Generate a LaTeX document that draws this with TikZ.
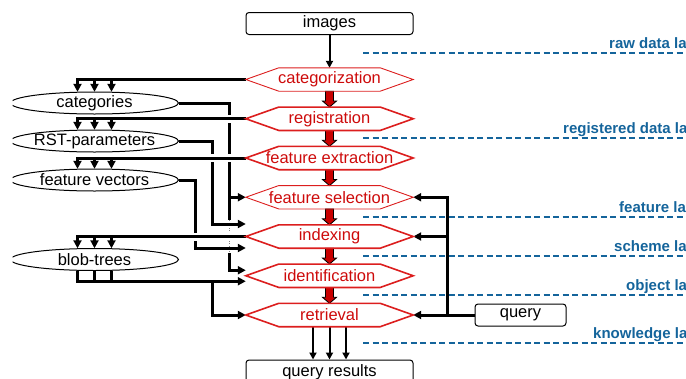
\documentclass[tikz,border=0pt]{standalone}
\usepackage{fontspec}
\setmainfont{Liberation Sans}
\usetikzlibrary{arrows.meta,calc}
\definecolor{hexred}{RGB}{220,30,30}
\definecolor{txtred}{RGB}{205,10,10}
\definecolor{arrred}{RGB}{200,0,0}
\definecolor{layblue}{RGB}{20,100,155}
\newcommand\hexdraw[2]{\draw[#2] (#1.west) -- ($(#1.north west)+(33,0)$) -- ($(#1.north east)+(-33,0)$) -- (#1.east) -- ($(#1.south east)+(-33,0)$) -- ($(#1.south west)+(33,0)$) -- cycle;}
\newcommand\redarrow[2]{%
  \path (#1.south) coordinate (ra1) (#2.north) coordinate (ra2);
  \filldraw[fill=arrred, draw=black, line width=0.8pt, line join=miter]
   ($(ra1)+(-4,0)$) -- ($(ra2)+(-4,-6)$) -- ($(ra2)+(-7,-6)$) -- (ra2) -- ($(ra2)+(7,-6)$) -- ($(ra2)+(4,-6)$) -- ($(ra1)+(4,0)$) -- cycle;}
\begin{document}
\begin{tikzpicture}[x=1pt,y=-1pt,
  font=\fontsize{16.5}{19}\selectfont,
  hexnode/.style={minimum width=167pt, minimum height=23pt, inner sep=0pt, text=txtred},
  hexthin/.style={draw=hexred, line width=0.9pt},
  hexthick/.style={draw=hexred, line width=1.6pt},
  boxnode/.style={draw, rounded corners=3pt, line width=1pt, minimum height=22pt, inner sep=0pt},
  ellnode/.style={minimum width=168pt, minimum height=22pt, inner sep=0pt},
  wire/.style={line width=3pt},
  arr/.style={wire, -{Triangle[length=8pt,width=8pt]}},
  thinarr/.style={line width=2pt, -{Triangle[length=7pt,width=7pt]}},
  gapper/.style={white, line width=8pt},
  layer/.style={draw=layblue, line width=2pt, dash pattern=on 6pt off 3.5pt},
  laytext/.style={text=layblue, font=\fontsize{15}{18}\selectfont\bfseries, anchor=base west, inner sep=0pt}]
\path[use as bounding box] (0,0) rectangle (686,378);
\clip (0,0) rectangle (686,378);

% layer lines and labels
\foreach \y/\t/\xs [count=\i] in {52.5/raw data layer/609, 137.5/registered data layer/563, 217/feature layer/619, 256/scheme layer/614, 295/object layer/626, 343/knowledge layer/593} {
  \draw[layer] (363,\y) -- (686,\y);
  \node[laytext] (lay\i) at (\xs,\y-4.5) {\t};
}

% boxes
\node[boxnode, minimum width=167pt] (img) at (329.5,23.5) {images};
\node[boxnode, minimum width=167pt, minimum height=24pt] (qres) at (329.5,372) {query results};
\node[boxnode, minimum width=91pt] (query) at (520.5,315) {query};

% process hexagon nodes
\node[hexnode] (cat) at (329.5,79.5) {categorization};
\node[hexnode] (reg) at (329.5,118.75) {registration};
\node[hexnode] (fe) at (329.5,158) {feature extraction};
\node[hexnode] (fs) at (329.5,197.25) {feature selection};
\node[hexnode] (idx) at (329.5,236.5) {indexing};
\node[hexnode] (ident) at (329.5,275.75) {identification};
\node[hexnode] (retr) at (329.5,315) {retrieval};

% data store ellipses
\node[ellnode] (cats) at (94.5,103) {categories};
\node[ellnode] (rst) at (94.5,141) {RST-parameters};
\node[ellnode] (fv) at (94.5,180) {feature vectors};
\node[ellnode] (blob) at (94.5,259.5) {blob-trees};
\begin{scope}
\clip (12.5,0) rectangle (686,378);
\foreach \n in {cats,rst,fv,blob}{
  \draw[line width=1pt] (\n.center) ellipse [x radius=84, y radius=11];
}
\end{scope}

% outputs of the stores
\draw[wire] (cats.east) -- (229,103) -- (229,220);
\draw[line width=0.6pt, dotted, gray] (229,220) -- (229,253);
\draw[arr] (229,253) -- (229,270.25) -- ($(ident.west)+(0,-5.5)$);
\draw[arr] (229,197.25) -- (fs.west);
\draw[arr] (rst.east) -- (212,141) -- (212,224) -- ($(idx.west)+(0,-12.5)$);
\draw[arr] (fv.east) -- (195,180) -- (195,248) -- ($(idx.west)+(0,11.5)$);
\draw[wire] (blob.south) -- ++(0,10.75);
\draw[wire] ($(blob.south)+(17,0)$) -- ++(0,10.75);
\draw[arr] ($(blob.south)+(-17,0)$) |- ($(ident.west)+(0,5.5)$);
\draw[arr] (212,281.25) |- (retr.west);

% feeds into the stores (with line jumps)
\foreach \h/\s in {reg/rst, fe/fv, idx/blob}{
  \draw[gapper] ($(\h.west)+(-56,0)$) -- (\h.west);
}
\foreach \h/\s in {cat/cats, reg/rst, fe/fv, idx/blob}{
  \draw[arr] (\h.west) -| ($(\s.north)+(-17,0)$);
  \draw[arr] ($(\s.north |- \h.west)$) -- (\s.north);
  \draw[arr] ($(\s.north |- \h.west)+(17,0)$) -- ($(\s.north)+(17,0)$);
}

% query bus
\draw[arr] (query.west) -- (retr.east);
\draw[arr] (447,315) |- (fs.east);
\draw[arr] (447,236.5) -- (idx.east);

% main flow
\draw[thinarr] (img.south) -- (cat.north);
\foreach \d in {-16.5,0,16.5}{
  \draw[thinarr] ($(retr.south)+(\d,0)$) -- ($(qres.north)+(\d,0)$);
}
\redarrow{cat}{reg}
\redarrow{reg}{fe}
\redarrow{fe}{fs}
\redarrow{fs}{idx}
\redarrow{idx}{ident}
\redarrow{ident}{retr}

% hexagon outlines
\hexdraw{cat}{hexthin}
\hexdraw{reg}{hexthick}
\hexdraw{fe}{hexthick}
\hexdraw{fs}{hexthin}
\hexdraw{idx}{hexthick}
\hexdraw{ident}{hexthick}
\hexdraw{retr}{hexthick}
\end{tikzpicture}
\end{document}
